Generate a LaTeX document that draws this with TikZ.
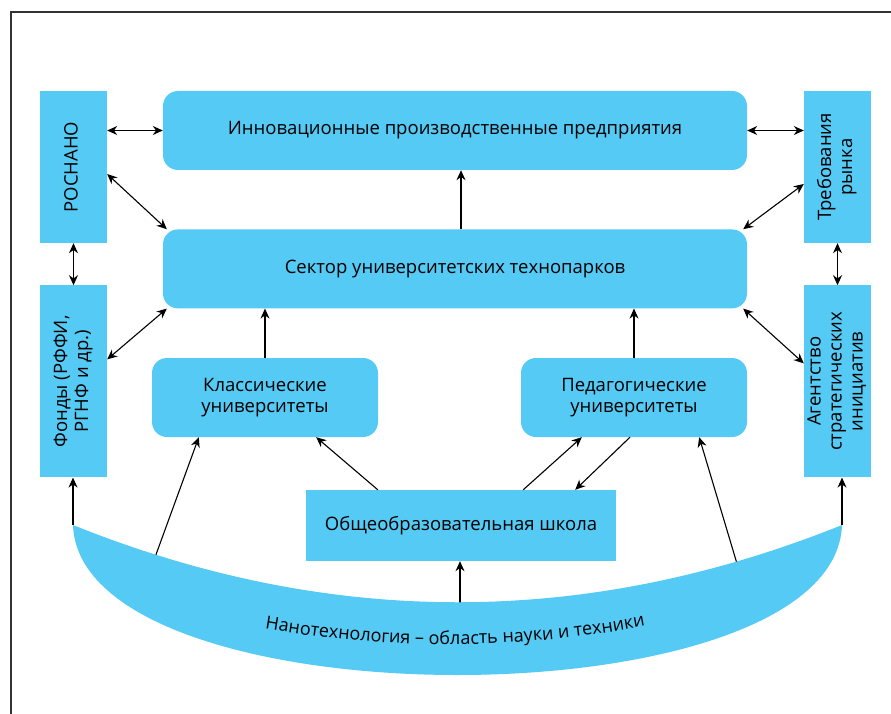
\documentclass[tikz,border=0pt]{standalone}
\usepackage{fontspec}
\setmainfont{Open Sans}
\usepackage{graphicx}
\usetikzlibrary{arrows.meta, positioning, decorations.text}
\definecolor{nanoblue}{RGB}{84,202,245}
\tikzset{
    block/.style={rectangle, fill=nanoblue, inner sep=2pt, align=center},
    roundblock/.style={block, rounded corners=15pt, minimum width=584pt, minimum height=79pt},
    smallblock/.style={block, rounded corners=15pt, minimum width=226pt, minimum height=79pt},
    sideblock/.style={block, minimum width=67pt, minimum height=152pt},
    arrow/.style={-{Stealth[length=10pt,width=9pt]}, line width=1.1pt},
    dblarrow/.style={{Stealth[length=10pt,width=9pt]}-{Stealth[length=10pt,width=9pt]}, line width=1.1pt},
    frame/.style={draw=black!80, line width=1.5pt}
}
\newcommand{\sidetext}[1]{\rotatebox{90}{\begin{tabular}{@{}c@{}}#1\end{tabular}}}

\begin{document}
\begin{tikzpicture}[x=1pt, y=-1pt, font=\fontsize{18.5}{21}\selectfont]
    \useasboundingbox (0,0) rectangle (891,714);
    \draw[frame] (11,714) -- (11,12) -- (891,12);

    \node (innov) [roundblock] at (455,130.5) {Инновационные производственные предприятия};
    \node (sector) [roundblock, below=59pt of innov] {Сектор университетских технопарков};
    \node (klass) [smallblock] at (265,397.5) {Классические\\университеты};
    \node (ped) [smallblock] at (634,397.5) {Педагогические\\университеты};
    \node (school) [block, minimum width=310pt, minimum height=71pt] at (461,525.5) {Общеобразовательная школа};
    \node (rosnano) [sideblock] at (73.5,167) {\sidetext{РОСНАНО}};
    \node (fondy) [sideblock, minimum height=192pt, below=42pt of rosnano] {\sidetext{Фонды (РФФИ,\\РГНФ и др.)}};
    \node (treb) [sideblock] at (837.5,167) {\sidetext{Требования\\рынка}};
    \node (agent) [sideblock, minimum height=192pt, below=42pt of treb] {\sidetext{Агентство\\стратегических\\инициатив}};

    \coordinate (nanoL) at (73,525);
    \coordinate (nanoR) at (842,525);
    \coordinate (nanoA) at (154,560);
    \coordinate (nanoB) at (460,605);
    \coordinate (nanoC) at (738,567);

    \draw[dblarrow] (rosnano.east |- innov) -- (innov.west);
    \draw[dblarrow] (innov.east) -- (treb.west |- innov);
    \draw[dblarrow] (rosnano) -- (fondy);
    \draw[dblarrow] (treb) -- (agent);
    \draw[dblarrow] ([yshift=-7pt]rosnano.east) -- ([xshift=4pt]sector.north west);
    \draw[dblarrow] ([yshift=22pt]fondy.east) -- ([xshift=4pt]sector.south west);
    \draw[dblarrow] ([yshift=-17pt]treb.west) -- ([xshift=-4pt]sector.north east);
    \draw[dblarrow] ([yshift=18pt]agent.west) -- ([xshift=-4pt]sector.south east);

    \draw[arrow] ([xshift=6pt]sector.north) -- ([xshift=6pt]innov.south);
    \draw[arrow] (klass.north) -- (klass.north |- sector.south);
    \draw[arrow] (ped.north) -- (ped.north |- sector.south);
    \draw[arrow] ([xshift=72pt]school.north west) -- ([xshift=-62pt]klass.south east);
    \draw[arrow] ([xshift=-93pt]school.north east) -- ([xshift=61pt]ped.south west);
    \draw[arrow] ([xshift=-4pt]ped.south) -- ([xshift=-41pt]school.north east);

    \draw[arrow] (nanoL) -- (nanoL |- fondy.south);
    \draw[arrow] (nanoR) -- (nanoR |- agent.south);
    \draw[arrow] (nanoA) -- ([xshift=47pt]klass.south west);
    \draw[arrow] (nanoC) -- ([xshift=-48pt]ped.south east);
    \draw[arrow] (nanoB) -- (nanoB |- school.south);

    \fill[nanoblue] (nanoL) .. controls (329,628) and (586,628) .. (nanoR)
        .. controls (835,725) and (80,725) .. (nanoL);
    \path[decorate, decoration={text along path, text align=center,
        text={|\fontsize{18}{21}\selectfont|Нанотехнология – область науки и техники}}]
        (255,627) .. controls (388,651) and (522,650) .. (655,624);
\end{tikzpicture}
\end{document}
